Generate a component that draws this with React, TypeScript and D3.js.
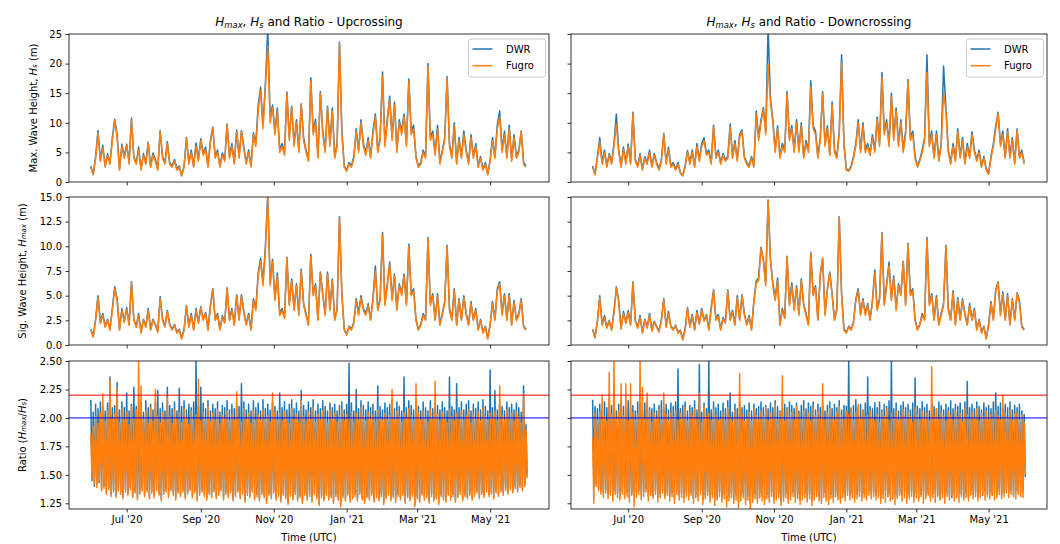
import React, { useRef, useEffect } from "react";
import * as d3 from "d3";

// samples: wave heights every 2 days, ratio every day, both from 1 Jun 2020 (UTC)
const START = Date.UTC(2020, 5, 1);
const END = Date.UTC(2021, 5, 1);
const DAY = 86400000;

const hmaxUpFugro = [2.5,1.2,4,8.3,3.5,5.8,2.5,4.5,3,7,
  10.3,7.5,2,6,4,6.2,3,10.5,4,3,
  5.5,2,4.5,3,6.5,2.5,4.5,3.5,2,8.5,
  4,3,6.5,3,2.5,3.5,2,2.5,1,2.5,
  7.3,3,5,2.5,6,3.5,7,4.5,5.5,2.5,
  6.5,9.2,4,5,2.5,4.5,3.5,9.7,4,6,
  3,8.5,4,8.5,5.5,3,5,2.5,8,6,
  12,15.5,9,16,23,10,12.5,8,12,5,
  6,4.5,15,7,12.5,6,10,5,13,7,
  5,3.5,17,8,10,4,15,8,5,12.5,
  6,12,4,6,23.3,8,2.5,1.8,3,2.5,
  4,8.5,5,10,6,4.5,7,4,8,11,
  5,7,18,6,10,14,7,13,5,10,
  8,11,6,17,8,9,4,2.5,3,5,
  4,19.5,7,8,4.5,9,3,5,7,17.5,
  6,4,9.5,3,7,4,8,5,3,7.5,
  4,6,2.5,4,2,3,1.2,3.5,7,4,
  9,11,5,8,4,9,3.5,7.5,4,5,
  8.5,3,2.5];

const hmaxUpDwr = [2.7,1.3,4.3,8.7,3.8,6.2,2.7,4.8,3.2,7.5,
  10.6,8,2.2,6.4,4.3,6.4,3.3,10.8,4.3,3.2,
  5.9,2.2,4.8,3.3,6.7,2.7,4.9,3.8,2.2,8.7,
  4.3,3.3,6.8,3.2,2.7,3.8,2.2,2.7,1.1,2.7,
  7.5,3.3,5.4,2.7,6.6,3.8,7.3,4.8,5.9,2.7,
  7,9.3,4.4,5.4,2.7,4.9,3.8,9.8,4.3,6.5,
  3.3,8.8,4.3,8.7,5.9,3.3,5.4,2.7,8.3,6.5,
  13,16,9.7,16.5,26,11,13,8.6,12.5,5.4,
  6.5,4.9,15.2,7.5,12.8,6.5,10.5,5.4,13.2,7.5,
  5.4,3.8,17.6,8.6,10.6,4.3,15.3,8.6,5.4,12.8,
  6.5,12.5,4.3,6.5,23.6,8.6,2.7,2,3.3,2.7,
  4.3,9,5.4,10.5,6.5,4.9,7.5,4.3,8.6,11.5,
  5.4,7.5,18.6,6.5,10.6,14.5,7.5,13.5,5.4,10.5,
  8.6,11.5,6.5,17.4,8.6,9.6,4.3,2.7,3.3,5.4,
  4.3,20,7.5,8.6,4.9,9.6,3.3,5.4,7.5,17.8,
  6.5,4.3,10,3.3,7.5,4.3,8.6,5.4,3.3,8,
  4.3,6.5,2.7,4.3,2.2,3.3,1.3,3.8,7.5,4.3,
  9.6,12,5.4,8.6,4.3,9.6,3.8,8,4.3,5.4,
  8.6,3.3,2.7];

const hsUpFugro = [1.5,0.8,2.5,4.8,2.2,3,1.8,2.5,1.5,3.5,
  5.7,4.5,1.5,3.5,2.3,3.6,2,6.3,2.5,1.8,
  3,1.2,2.5,1.8,3.5,1.5,2.5,2,1.3,4.7,
  2.5,1.8,3.4,2,1.5,2,1.2,1.5,0.6,1.5,
  3.9,1.8,3,1.5,3.5,2.2,3.8,2.5,3.2,1.5,
  3.8,5.6,2.5,3,1.5,2.8,2.2,5.7,2.5,3.5,
  2,5,2.5,5,3.2,2,3,1.5,4.5,3.5,
  7,8.5,6,9.5,15,6,8.5,4.5,7,3,
  3.5,2.7,8.8,4,6.5,3.5,6,3,7.5,4,
  3,2,9,5,6,2.5,7.3,5,3,7.2,
  3.5,6.5,2.5,3.5,12.9,5,1.5,1,1.8,1.5,
  2.2,4.5,3,4.8,3.5,3,4,2.5,4.5,7.5,
  3.5,4.5,11.2,4,6,8.2,4.5,7,3.5,6,
  5,7,4,10,5,5.5,2.5,1.5,2,3,
  2.5,10.8,4,5,2.5,5,2,3,4.2,10,
  3.5,2.5,5.5,2,4.5,2.5,4.8,3,2,4.2,
  2.5,3.5,1.5,2.5,1.2,1.8,0.6,2,4.2,2.5,
  5.5,6.2,3,5,2.5,5,2,4.3,2.5,3,
  4.5,1.8,1.5];

const hsUpDwr = [1.6,0.9,2.6,5,2.3,3.2,1.9,2.6,1.6,3.7,
  5.9,4.7,1.6,3.7,2.4,3.8,2.1,6.4,2.6,1.9,
  3.2,1.3,2.6,1.9,3.7,1.6,2.6,2.1,1.4,4.9,
  2.6,1.9,3.5,2.1,1.6,2.1,1.3,1.6,0.7,1.6,
  4,1.9,3.2,1.6,3.7,2.3,3.9,2.6,3.3,1.6,
  4,5.7,2.6,3.2,1.6,3,2.3,5.8,2.6,3.7,
  2.1,5.1,2.6,5.1,3.4,2.1,3.2,1.6,4.7,3.7,
  7.3,8.8,6.3,9.9,15.2,6.3,8.7,4.7,7.3,3.2,
  3.7,2.8,8.9,4.2,6.7,3.7,6.2,3.2,7.7,4.2,
  3.2,2.1,9.2,5.2,6.2,2.6,7.4,5.2,3.2,7.4,
  3.7,6.7,2.6,3.7,13,5.2,1.6,1.1,1.9,1.6,
  2.3,4.7,3.2,5,3.7,3.2,4.2,2.6,4.7,8,
  3.7,4.7,11.4,4.2,6.2,8.4,4.7,7.2,3.7,6.2,
  5.2,7.2,4.2,10.2,5.2,5.7,2.6,1.6,2.1,3.2,
  2.6,10.9,4.2,5.2,2.6,5.2,2.1,3.2,4.4,10.1,
  3.7,2.6,5.7,2.1,4.7,2.6,5,3.2,2.1,4.4,
  2.6,3.7,1.6,2.6,1.3,1.9,0.7,2.1,4.4,2.6,
  5.7,6.4,3.2,5.2,2.6,5.2,2.1,4.5,2.6,3.2,
  4.7,1.9,1.6];

const hmaxDownFugro = [2.5,1.2,4,6.8,3,5,2.5,4.5,3,6,
  9.8,5,2.5,5.5,3,6,3,11.5,3.5,2.5,
  4.5,2,4,3,5,2.5,4.5,3,2,3.5,
  8,3,5.5,2.5,3,2,3,1.5,1,2.5,
  5,3,5,2.5,6,3.5,6,7,4.5,5,
  3,9.3,4,5,3,4.5,3.5,4,9.3,4,
  6.5,3.5,7.5,8.5,4,3,2.5,4,2.5,11.5,
  7,10,12.3,8,19.8,13.5,10,5,9,4,
  6,5,15,7,9,5,10,5,9.5,4,
  6.5,5,16,9,8,4,7,15,6,9,
  4.5,13,5,4,8,20,6,2,1.8,2.5,
  4,6,10,5,9.5,5,6,4.5,7.5,5,
  10.5,6,17.7,8,10,6,14.5,7,12,6,
  10,5,8,17,7,8,4,2.5,3.5,5,
  7,18.5,6,8,4,8,3.5,6,15,12,
  5,3,6,3.5,8.5,4,7,3,6,4,
  8,5,3.5,5,2.5,4,2,1.3,4,6,
  9,11.5,6,8,4,8.5,4,7,3,8.8,
  4,5,3];

const hmaxDownDwr = [2.7,1.3,4.3,7.5,3.3,5.4,2.7,4.8,3.3,6.5,
  11.5,5.4,2.7,5.9,3.3,6.4,3.3,11.8,3.8,2.7,
  4.8,2.2,4.3,3.3,5.4,2.7,4.8,3.3,2.2,3.8,
  8.2,3.3,5.9,2.7,3.3,2.2,3.3,1.6,1.1,2.7,
  5.3,3.3,5.4,2.7,6.5,3.8,6.5,7.5,4.8,5.4,
  3.3,9.6,4.3,5.4,3.3,4.8,3.8,4.3,9.8,4.3,
  7,3.8,8,8.8,4.3,3.3,2.7,4.3,2.7,12,
  7.5,10.5,12.6,8.6,26,14,10.5,5.4,9.5,4.3,
  6.5,5.4,15.3,7.5,9.5,5.4,10.5,5.4,10,4.3,
  7,5.4,17.1,9.5,8.6,4.3,7.5,15.3,6.5,9.5,
  4.8,13.5,5.4,4.3,8.6,21.5,6.5,2.2,2,2.7,
  4.3,6.5,10.5,5.4,10,5.4,6.5,4.8,8,5.4,
  11,6.5,18.5,8.6,10.5,6.5,15,7.5,12.5,6.5,
  10.5,5.4,8.6,17.3,7.5,8.6,4.3,2.7,3.8,5.4,
  7.5,21.5,6.5,8.6,4.3,8.6,3.8,6.5,19.6,12.5,
  5.4,3.3,6.5,3.8,9,4.3,7.5,3.3,6.5,4.3,
  8.5,5.4,3.8,5.4,2.7,4.3,2.2,1.5,4.3,6.5,
  9.5,11.8,6.5,8.6,4.3,9,4.3,7.5,3.3,9,
  4.3,5.4,3.3];

const hsDownFugro = [1.5,0.7,2.3,4.8,2,2.8,1.7,2.4,1.5,3.2,
  5.8,4.3,1.6,3.2,2.2,3.3,2,6.3,2.4,1.7,
  2.8,1.2,2.5,1.7,3,1.4,2.3,1.8,1.3,2.5,
  4.6,1.8,3.2,1.8,1.5,1.9,1.2,1.4,0.5,1.5,
  3.7,1.8,2.9,1.5,3.3,2.1,3.5,2.4,3,1.5,
  3.6,5.5,2.5,2.9,1.5,2.7,2.2,5.5,2.5,3.3,
  2,4.8,2.5,5,3,2,2.8,1.5,4.3,6.3,
  6.5,9.8,8.5,6,14.6,8.5,6,4.5,6.5,2,
  3.5,2.7,8.9,4,6,3.5,5.8,3,6.5,4,
  3,2,9.3,5,5.8,2.5,7,8.7,3,5.5,
  7.3,5,2.5,3.5,12.9,5,1.5,1.2,1.8,1.5,
  2.2,4.5,5.5,3,4.5,3,4,2.5,4.3,7.3,
  3.5,4.5,11.3,4,6,8,4.5,6.8,3.5,6,
  5,8.4,4,10.2,5,5.5,2.5,1.5,2,3,
  2.5,10.7,4,5,2.5,4.8,2,3,4,10,
  3.5,2.5,5.3,2,4.6,2.5,4.5,3,2,4,
  2.5,3.5,1.5,2.5,1.2,1.8,0.6,2,4.2,2.5,
  5.4,6.3,3,5.2,2.5,5,2,4.5,2.5,5.2,
  4.3,1.8,1.5];

const hsDownDwr = [1.6,0.8,2.4,5,2.1,3,1.8,2.5,1.6,3.4,
  5.9,4.5,1.7,3.4,2.3,3.5,2.1,6.4,2.5,1.8,
  3,1.3,2.6,1.8,3.2,1.5,2.4,1.9,1.4,2.6,
  4.7,1.9,3.4,1.9,1.6,2,1.3,1.5,0.6,1.6,
  3.8,1.9,3.1,1.6,3.5,2.2,3.7,2.5,3.1,1.6,
  3.8,5.6,2.6,3.1,1.6,2.8,2.3,5.6,2.6,3.5,
  2.1,5,2.6,5.1,3.2,2.1,3,1.6,4.5,6.5,
  6.8,9.9,8.7,6.3,14.7,8.7,6.3,4.7,6.8,2.1,
  3.7,2.8,9,4.2,6.3,3.7,6,3.2,6.7,4.2,
  3.2,2.1,9.4,5.2,6,2.6,7.2,8.8,3.2,5.7,
  7.4,5.2,2.6,3.7,13,5.2,1.6,1.3,1.9,1.6,
  2.3,4.7,5.7,3.2,4.7,3.2,4.2,2.6,4.5,7.6,
  3.7,4.7,11.4,4.2,6.2,8.4,4.7,7,3.7,6.2,
  5.2,8.5,4.2,10.3,5.2,5.7,2.6,1.6,2.1,3.2,
  2.6,10.9,4.2,5.2,2.6,5,2.1,3.2,4.2,10.1,
  3.7,2.6,5.5,2.1,4.8,2.6,4.7,3.2,2.1,4.2,
  2.6,3.7,1.6,2.6,1.3,1.9,0.7,2.1,4.4,2.6,
  5.6,6.4,3.2,5.4,2.6,5.2,2.1,4.7,2.6,5.3,
  4.5,1.9,1.6];

const ratioUpFugro = [1.86,1.47,1.93,1.42,2.01,1.39,1.95,1.44,2.04,1.36,2.21,1.38,1.97,1.33,2.06,1.37,2.34,1.31,1.99,1.35,
  2.03,1.30,2.26,1.36,1.96,1.33,2.08,1.29,1.98,1.35,2.05,1.32,1.94,1.37,2.10,1.30,2.00,1.34,2.07,1.28,
  2.50,1.33,2.28,1.36,1.99,1.31,2.06,1.35,1.95,1.29,2.09,1.34,1.97,1.30,2.25,1.36,2.02,1.32,1.96,1.27,
  2.05,1.33,1.98,1.35,2.18,1.30,2.01,1.36,1.95,1.32,2.07,1.28,1.99,1.34,2.04,1.31,1.96,1.35,2.08,1.29,
  2.00,1.33,1.94,1.36,2.06,1.30,1.98,1.34,2.03,1.27,2.34,1.32,1.97,1.35,2.05,1.31,1.99,1.28,2.10,1.33,
  1.96,1.30,2.04,1.35,1.98,1.29,2.07,1.32,1.95,1.36,2.02,1.28,1.99,1.33,2.06,1.30,1.97,1.34,2.03,1.27,
  1.98,1.31,2.23,1.35,2.00,1.29,1.96,1.33,2.08,1.26,1.99,1.32,2.04,1.30,1.95,1.35,2.06,1.28,1.98,1.31,
  2.03,1.27,1.97,1.33,2.07,1.30,1.99,1.25,2.02,1.32,1.96,1.29,2.22,1.34,2.05,1.28,1.98,1.31,2.04,1.26,
  1.97,1.32,2.06,1.29,2.00,1.24,1.95,1.31,2.08,1.28,1.99,1.33,2.03,1.27,1.96,1.30,2.15,1.25,2.01,1.32,
  1.97,1.28,2.05,1.31,1.99,1.26,2.09,1.33,1.96,1.29,2.03,1.23,1.98,1.30,2.06,1.27,2.00,1.32,1.95,1.28,
  2.07,1.30,1.99,1.25,2.04,1.31,1.96,1.28,2.02,1.22,2.08,1.30,1.97,1.27,2.03,1.32,1.99,1.26,2.05,1.29,
  1.96,1.31,2.04,1.27,1.98,1.33,2.09,1.28,2.01,1.25,1.97,1.30,2.05,1.28,1.99,1.32,2.03,1.26,1.96,1.30,
  2.07,1.27,2.00,1.31,1.97,1.24,2.04,1.29,1.99,1.32,2.02,1.27,2.25,1.30,1.98,1.26,2.06,1.31,2.01,1.28,
  1.96,1.32,2.05,1.25,1.99,1.30,2.08,1.27,2.02,1.31,1.97,1.22,2.30,1.29,2.04,1.26,1.98,1.32,2.06,1.28,
  2.00,1.30,1.96,1.25,2.07,1.31,1.99,1.27,2.32,1.29,2.03,1.24,1.97,1.31,2.05,1.28,2.00,1.26,1.96,1.32,
  2.08,1.28,2.01,1.31,1.97,1.26,2.04,1.30,1.99,1.33,2.06,1.27,1.98,1.31,2.02,1.29,2.07,1.32,1.96,1.28,
  2.03,1.31,1.99,1.34,2.05,1.29,1.97,1.33,2.09,1.30,2.01,1.35,1.98,1.31,2.04,1.33,2.00,1.29,2.06,1.34,
  1.97,1.31,2.28,1.35,2.02,1.32,1.98,1.36,2.07,1.33,2.00,1.37,2.04,1.34,1.97,1.38,2.05,1.35,2.01,1.39,
  1.96,1.36,2.21,1.40,1.90,1.47];

const ratioUpDwr = [2.16,1.45,2.05,1.40,2.12,1.41,2.08,1.43,2.14,1.38,2.10,1.40,2.06,1.35,2.13,1.39,2.36,1.33,2.09,1.37,
  2.11,1.32,2.31,1.38,2.07,1.35,2.14,1.31,2.09,1.37,2.22,1.34,2.06,1.39,2.12,1.32,2.27,1.36,2.10,1.30,
  2.08,1.35,2.13,1.38,2.05,1.33,2.15,1.37,2.09,1.31,2.12,1.36,2.07,1.32,2.14,1.38,2.24,1.34,2.08,1.29,
  2.13,1.35,2.06,1.37,2.27,1.32,2.11,1.38,2.08,1.34,2.14,1.30,2.06,1.36,2.26,1.33,2.10,1.37,2.15,1.31,
  2.07,1.35,2.12,1.38,2.09,1.32,2.14,1.36,2.50,1.29,2.10,1.34,2.27,1.37,2.13,1.33,2.08,1.30,2.15,1.35,
  2.06,1.32,2.12,1.37,2.08,1.31,2.14,1.34,2.05,1.38,2.11,1.30,2.09,1.35,2.15,1.32,2.07,1.36,2.12,1.29,
  2.08,1.33,2.13,1.37,2.10,1.31,2.30,1.35,2.14,1.28,2.07,1.34,2.12,1.32,2.06,1.37,2.15,1.30,2.09,1.33,
  2.13,1.29,2.06,1.35,2.16,1.32,2.08,1.27,2.12,1.34,2.07,1.31,2.14,1.36,2.10,1.30,2.06,1.33,2.22,1.28,
  2.09,1.34,2.14,1.31,2.07,1.26,2.12,1.33,2.16,1.30,2.08,1.35,2.13,1.29,2.06,1.32,2.24,1.27,2.11,1.34,
  2.07,1.30,2.14,1.33,2.09,1.28,2.16,1.35,2.06,1.31,2.12,1.25,2.08,1.32,2.15,1.29,2.10,1.34,2.06,1.30,
  2.13,1.32,2.09,1.27,2.12,1.33,2.06,1.30,2.11,1.24,2.14,1.32,2.07,1.29,2.12,1.34,2.48,1.28,2.13,1.31,
  2.06,1.33,2.25,1.29,2.08,1.35,2.15,1.30,2.11,1.27,2.07,1.32,2.14,1.30,2.09,1.34,2.12,1.28,2.06,1.32,
  2.28,1.29,2.10,1.33,2.07,1.26,2.13,1.31,2.09,1.34,2.12,1.29,2.16,1.32,2.08,1.28,2.14,1.33,2.10,1.30,
  2.06,1.34,2.36,1.27,2.09,1.32,2.15,1.29,2.11,1.33,2.07,1.24,2.13,1.31,2.10,1.28,2.06,1.34,2.14,1.30,
  2.09,1.32,2.06,1.27,2.15,1.33,2.08,1.29,2.13,1.31,2.11,1.26,2.07,1.33,2.14,1.30,2.09,1.28,2.06,1.34,
  2.36,1.30,2.10,1.33,2.07,1.28,2.30,1.32,2.09,1.35,2.14,1.29,2.07,1.33,2.12,1.31,2.15,1.34,2.06,1.30,
  2.12,1.33,2.08,1.36,2.14,1.31,2.07,1.35,2.16,1.32,2.10,1.37,2.06,1.33,2.42,1.35,2.09,1.31,2.24,1.36,
  2.07,1.33,2.13,1.37,2.10,1.34,2.06,1.38,2.14,1.35,2.09,1.39,2.12,1.36,2.07,1.40,2.13,1.37,2.09,1.41,
  2.05,1.38,2.28,1.42,1.94,1.49];

const ratioDownFugro = [1.83,1.25,2.04,1.40,1.98,1.36,2.05,1.33,2.20,1.30,2.01,1.34,1.97,1.29,2.40,1.32,2.03,1.27,2.50,1.33,
  1.99,1.30,2.06,1.28,2.30,1.33,2.02,1.29,2.30,1.31,1.97,1.26,2.30,1.32,2.05,1.22,1.98,1.30,2.03,1.33,
  2.50,1.28,2.27,1.31,2.00,1.35,2.22,1.27,2.06,1.32,1.96,1.29,2.04,1.33,1.99,1.26,2.07,1.30,1.98,1.34,
  2.22,1.29,2.03,1.32,1.97,1.27,2.05,1.31,2.01,1.25,2.06,1.33,1.98,1.28,2.04,1.30,2.00,1.26,2.09,1.31,
  1.97,1.28,2.05,1.32,2.02,1.25,2.08,1.30,1.99,1.27,2.22,1.33,1.96,1.24,2.10,1.29,2.01,1.32,2.04,1.26,
  1.98,1.30,2.07,1.23,2.02,1.28,1.97,1.31,1.99,1.26,2.05,1.29,1.97,1.22,2.09,1.27,2.01,1.30,1.96,1.25,
  2.06,1.28,1.99,1.21,2.39,1.27,2.03,1.30,1.97,1.24,2.00,1.28,2.05,1.20,1.97,1.26,2.08,1.29,2.02,1.25,
  1.98,1.30,2.06,1.27,2.01,1.24,2.09,1.29,1.97,1.26,2.04,1.31,2.00,1.25,2.12,1.28,1.99,1.30,2.05,1.23,
  2.37,1.27,1.97,1.30,2.08,1.25,2.01,1.28,2.05,1.31,1.98,1.26,2.10,1.29,2.03,1.24,1.99,1.28,2.06,1.30,
  2.01,1.26,2.04,1.29,1.97,1.23,2.09,1.28,2.02,1.31,2.06,1.27,2.00,1.25,2.30,1.30,1.98,1.27,2.04,1.24,
  2.08,1.29,2.01,1.26,1.97,1.31,2.05,1.28,2.10,1.25,2.02,1.30,1.99,1.27,2.06,1.32,2.03,1.28,2.09,1.30,
  1.98,1.26,2.04,1.29,2.12,1.31,2.00,1.27,2.06,1.30,2.01,1.28,2.02,1.32,2.07,1.29,2.00,1.31,1.97,1.28,
  2.03,1.30,1.96,1.25,2.05,1.29,2.01,1.26,2.08,1.31,1.98,1.27,2.04,1.30,2.00,1.24,2.06,1.29,1.97,1.32,
  2.02,1.27,2.07,1.30,1.99,1.25,2.05,1.29,2.01,1.31,1.96,1.26,2.09,1.30,2.03,1.27,1.98,1.31,2.06,1.25,
  2.00,1.29,2.04,1.32,1.97,1.27,2.45,1.30,2.02,1.26,2.08,1.31,1.99,1.28,2.05,1.30,2.01,1.25,1.97,1.31,
  2.06,1.28,2.02,1.32,1.98,1.27,2.07,1.30,2.01,1.26,2.04,1.31,1.96,1.28,2.09,1.30,2.03,1.27,1.99,1.32,
  2.05,1.29,2.00,1.31,2.08,1.27,1.97,1.30,2.04,1.33,2.01,1.28,2.06,1.31,1.98,1.29,2.03,1.32,2.00,1.28,
  2.07,1.30,2.02,1.33,1.98,1.29,2.20,1.31,2.04,1.34,2.00,1.30,2.06,1.33,1.97,1.31,2.03,1.29,2.05,1.33,
  1.98,1.31,2.03,1.30,1.96,1.50];

const ratioDownDwr = [2.16,1.40,2.10,1.42,2.08,1.38,2.12,1.36,2.07,1.34,2.14,1.37,2.09,1.33,2.16,1.35,2.11,1.32,2.13,1.36,
  2.06,1.34,2.12,1.31,2.15,1.36,2.10,1.33,2.08,1.35,2.15,1.30,2.09,1.34,2.11,1.32,2.06,1.35,2.14,1.37,
  2.10,1.33,2.07,1.35,2.13,1.38,2.16,1.31,2.09,1.34,2.08,1.32,2.12,1.36,2.06,1.30,2.11,1.33,2.15,1.36,
  2.09,1.32,2.12,1.35,2.07,1.31,2.13,1.34,2.10,1.29,2.14,1.36,2.43,1.32,2.08,1.34,2.11,1.30,2.14,1.35,
  2.06,1.32,2.11,1.35,2.09,1.29,2.15,1.33,2.07,1.31,2.47,1.36,2.05,1.28,2.13,1.32,2.08,1.35,2.50,1.30,
  2.07,1.33,2.14,1.28,2.09,1.31,2.12,1.35,2.06,1.30,2.13,1.33,2.08,1.27,2.15,1.31,2.22,1.34,2.05,1.29,
  2.12,1.32,2.08,1.26,2.14,1.31,2.09,1.34,2.11,1.28,2.07,1.32,2.13,1.25,2.06,1.30,2.12,1.33,2.08,1.29,
  2.10,1.34,2.14,1.31,2.09,1.28,2.11,1.33,2.08,1.30,2.13,1.35,2.09,1.29,2.15,1.32,2.10,1.34,2.06,1.27,
  2.07,1.31,2.12,1.34,2.09,1.29,2.14,1.32,2.11,1.35,2.08,1.30,2.13,1.33,2.06,1.28,2.11,1.32,2.15,1.34,
  2.08,1.30,2.13,1.33,2.10,1.27,2.14,1.32,2.07,1.35,2.12,1.31,2.09,1.29,2.13,1.34,2.06,1.31,2.11,1.28,
  2.14,1.33,2.08,1.30,2.12,1.35,2.09,1.32,2.15,1.29,2.07,1.34,2.11,1.31,2.10,1.36,2.50,1.32,2.08,1.34,
  2.11,1.30,2.16,1.33,2.09,1.35,2.12,1.31,2.07,1.34,2.13,1.32,2.36,1.36,2.10,1.33,2.08,1.35,2.13,1.32,
  2.09,1.35,2.14,1.30,2.07,1.33,2.12,1.36,2.10,1.31,2.15,1.34,2.50,1.29,2.08,1.33,2.13,1.31,2.06,1.35,
  2.11,1.32,2.14,1.36,2.09,1.30,2.12,1.33,2.07,1.35,2.13,1.31,2.35,1.34,2.10,1.30,2.08,1.33,2.14,1.36,
  2.09,1.31,2.12,1.34,2.06,1.30,2.13,1.33,2.10,1.35,2.08,1.32,2.14,1.29,2.11,1.34,2.07,1.31,2.12,1.35,
  2.09,1.32,2.15,1.30,2.08,1.34,2.12,1.31,2.10,1.35,2.13,1.33,2.07,1.30,2.14,1.34,2.32,1.31,2.09,1.36,
  2.12,1.33,2.08,1.35,2.14,1.31,2.10,1.34,2.07,1.32,2.13,1.36,2.09,1.33,2.11,1.35,2.08,1.32,2.14,1.34,
  2.22,1.33,2.10,1.36,2.13,1.32,2.08,1.35,2.12,1.37,2.09,1.34,2.14,1.36,2.07,1.33,2.11,1.37,2.09,1.35,
  2.12,1.34,2.06,1.36,2.03,1.48];

const seriesNames = ["DWR", "Fugro"];
const seriesColors = ["#1f77b4", "#ff7f0e"];

const hmaxTicks = [0, 5, 10, 15, 20, 25];
const hsTicks = [0, 2.5, 5, 7.5, 10, 12.5, 15];
const ratioTicks = [1.25, 1.5, 1.75, 2.0, 2.25, 2.5];
const ratioLimits = [2.2, 2.0];
const limitColors = ["#ff0000", "#0000ff"];

const FONT = "DejaVu Sans";

type Seg = [string, "n" | "i" | "s"];

const mathText = (sel: any, segs: Seg[], size: number) => {
  let shift = 0;
  segs.forEach(([t, kind]) => {
    const ts = sel.append("tspan").text(t);
    if (kind === "i") ts.attr("font-style", "italic");
    if (kind === "s") {
      shift = size * 0.22;
      ts.attr("font-style", "italic").attr("font-size", size * 0.7).attr("dy", shift);
    } else if (shift) {
      ts.attr("dy", -shift);
      shift = 0;
    }
  });
};

const drawChart = (el: SVGSVGElement) => {
  const svg = d3.select(el);
  svg.selectAll("*").remove();

  const heightDates = d3.range(hmaxUpFugro.length).map(i => new Date(START + i * 2 * DAY));
  const ratioDates = d3.range(ratioUpFugro.length).map(i => new Date(START + i * DAY));
  const pad = (END - START) * 0.05;

  const cols = [
    { x0: 69, x1: 549, name: "Upcrossing", yLabels: true,
      data: [[hmaxUpDwr, hmaxUpFugro], [hsUpDwr, hsUpFugro], [ratioUpDwr, ratioUpFugro]] },
    { x0: 571, x1: 1047, name: "Downcrossing", yLabels: false,
      data: [[hmaxDownDwr, hmaxDownFugro], [hsDownDwr, hsDownFugro], [ratioDownDwr, ratioDownFugro]] },
  ];

  const rows = [
    { y0: 34, y1: 182, domain: [0, 25], ticks: hmaxTicks, fmt: d3.format("d"), dates: heightDates, labelX: 33,
      label: [["Max. Wave Height, ", "n"], ["H", "i"], ["s", "s"], [" (m)", "n"]] as Seg[] },
    { y0: 197, y1: 345, domain: [0, 15], ticks: hsTicks, fmt: d3.format(".1f"), dates: heightDates, labelX: 21.5,
      label: [["Sig. Wave Height, ", "n"], ["H", "i"], ["max", "s"], [" (m)", "n"]] as Seg[] },
    { y0: 361, y1: 509, domain: [1.2, 2.5], ticks: ratioTicks, fmt: d3.format(".2f"), dates: ratioDates, labelX: 21.5,
      label: [["Ratio (", "n"], ["H", "i"], ["max", "s"], ["/", "n"], ["H", "i"], ["s", "s"], [")", "n"]] as Seg[] },
  ];

  const defs = svg.append("defs");

  cols.forEach((col, c) => {
    const x = d3.scaleUtc()
      .domain([new Date(START - pad), new Date(END + pad)])
      .range([col.x0, col.x1]);
    const xTicks = x.ticks(d3.utcMonth.every(2) as any);

    // title
    const title = svg.append("text")
      .attr("x", (col.x0 + col.x1) / 2).attr("y", 25.5)
      .attr("text-anchor", "middle").attr("font-family", FONT).attr("font-size", 12).attr("fill", "#000");
    mathText(title, [["H", "i"], ["max", "s"], [", ", "n"], ["H", "i"], ["s", "s"], [" and Ratio - " + col.name, "n"]], 12);

    rows.forEach((row, r) => {
      const y = d3.scaleLinear().domain(row.domain).range([row.y1, row.y0]);
      const id = `clip-${c}-${r}`;
      defs.append("clipPath").attr("id", id).append("rect")
        .attr("x", col.x0).attr("y", row.y0).attr("width", col.x1 - col.x0).attr("height", row.y1 - row.y0);

      const plot = svg.append("g").attr("clip-path", `url(#${id})`);
      col.data[r].forEach((values, s) => {
        const line = d3.line<number>()
          .x((_, i) => x(row.dates[i]))
          .y(d => y(d));
        plot.append("path")
          .attr("d", line(values))
          .attr("fill", "none")
          .attr("stroke", seriesColors[s])
          .attr("stroke-width", 1.5)
          .attr("stroke-linejoin", "round");
      });

      if (r === 2) {
        ratioLimits.forEach((v, k) => {
          plot.append("line")
            .attr("x1", col.x0).attr("x2", col.x1)
            .attr("y1", y(v)).attr("y2", y(v))
            .attr("stroke", limitColors[k]).attr("stroke-width", 1);
        });
      }

      svg.append("rect")
        .attr("x", col.x0).attr("y", row.y0)
        .attr("width", col.x1 - col.x0).attr("height", row.y1 - row.y0)
        .attr("fill", "none").attr("stroke", "#000").attr("stroke-width", 0.8);

      const xAxis = d3.axisBottom(x)
        .tickValues(xTicks)
        .tickSize(3.5).tickPadding(3.5)
        .tickFormat((d: any) => (r === 2 ? d3.utcFormat("%b '%y")(d) : ""));
      const gx = svg.append("g").attr("transform", `translate(0,${row.y1})`).call(xAxis as any);

      const yAxis = d3.axisLeft(y)
        .tickValues(row.ticks)
        .tickSize(3.5).tickPadding(3.5)
        .tickFormat((d: any) => (col.yLabels ? row.fmt(d) : ""));
      const gy = svg.append("g").attr("transform", `translate(${col.x0},0)`).call(yAxis as any);

      [gx, gy].forEach(g => {
        g.select(".domain").remove();
        g.attr("font-family", FONT).attr("font-size", 10);
        g.selectAll(".tick line").attr("stroke", "#000").attr("stroke-width", 0.8);
        g.selectAll(".tick text").attr("fill", "#000");
      });

      if (col.yLabels) {
        const lab = svg.append("text")
          .attr("transform", `translate(${row.labelX},${(row.y0 + row.y1) / 2}) rotate(-90)`)
          .attr("text-anchor", "middle").attr("dominant-baseline", "central")
          .attr("font-family", FONT).attr("font-size", 10).attr("fill", "#000");
        mathText(lab, row.label, 10);
      }

      if (r === 2) {
        svg.append("text")
          .attr("x", (col.x0 + col.x1) / 2).attr("y", 541)
          .attr("text-anchor", "middle").attr("font-family", FONT).attr("font-size", 10).attr("fill", "#000")
          .text("Time (UTC)");
      }

      if (r === 0) {
        const lg = svg.append("g").attr("transform", `translate(${col.x1 - 3.5 - 77},${row.y0 + 5})`);
        lg.append("rect").attr("width", 77).attr("height", 38).attr("rx", 2.5)
          .attr("fill", "#fff").attr("fill-opacity", 0.8).attr("stroke", "#cccccc").attr("stroke-width", 1);
        seriesNames.forEach((name, s) => {
          const ly = 10 + s * 16.7;
          lg.append("line").attr("x1", 4).attr("x2", 24).attr("y1", ly).attr("y2", ly)
            .attr("stroke", seriesColors[s]).attr("stroke-width", 1.5);
          lg.append("text").attr("x", 37.5).attr("y", ly + 3.6)
            .attr("font-family", FONT).attr("font-size", 10).attr("fill", "#000").text(name);
        });
      }
    });
  });
};

const App = () => {
  const ref = useRef<SVGSVGElement>(null);

  useEffect(() => {
    if (ref.current) drawChart(ref.current);
  }, []);

  return (
    <svg
      ref={ref}
      width={1060}
      height={544}
      style={{ position: "absolute", left: 0, top: 0, background: "#fff" }}
    />
  );
};

export default App;
